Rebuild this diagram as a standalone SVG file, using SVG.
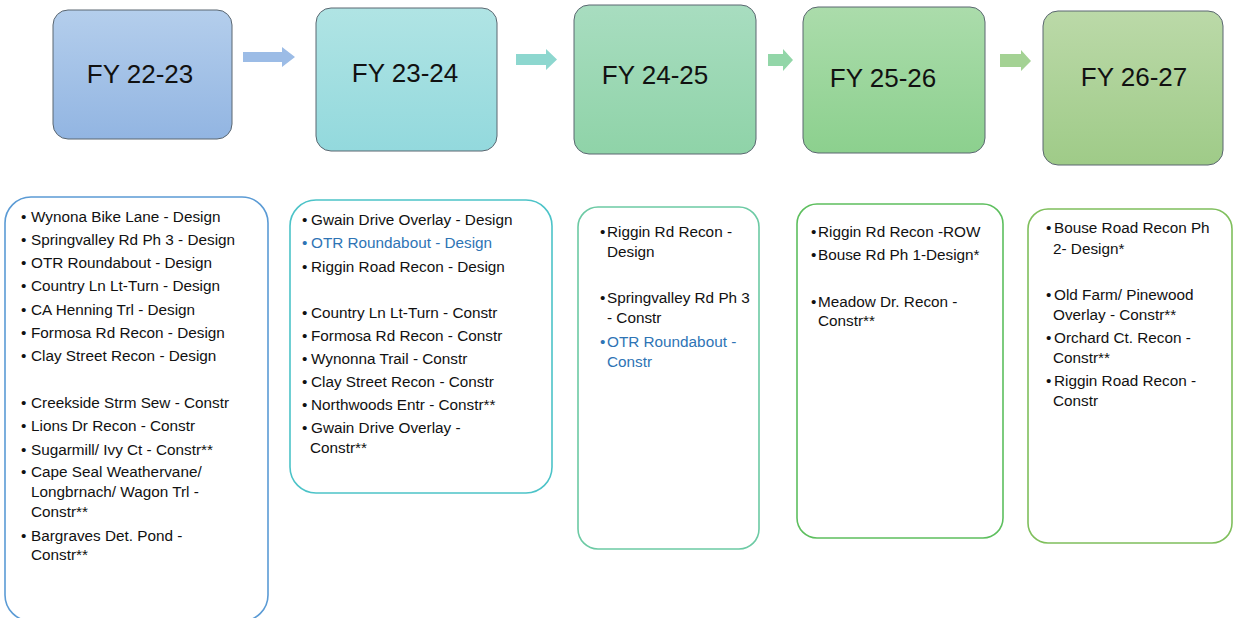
<svg xmlns="http://www.w3.org/2000/svg" width="1234" height="618" viewBox="0 0 1234 618">
<defs>
<linearGradient id="g1" x1="0" y1="0" x2="0" y2="1"><stop offset="0" stop-color="#b4ceec"/><stop offset="1" stop-color="#92b5e2"/></linearGradient>
<linearGradient id="g2" x1="0" y1="0" x2="0" y2="1"><stop offset="0" stop-color="#b0e4e4"/><stop offset="1" stop-color="#93d9dd"/></linearGradient>
<linearGradient id="g3" x1="0" y1="0" x2="0" y2="1"><stop offset="0" stop-color="#a8ddc0"/><stop offset="1" stop-color="#8fd3a8"/></linearGradient>
<linearGradient id="g4" x1="0" y1="0" x2="0" y2="1"><stop offset="0" stop-color="#abdcab"/><stop offset="1" stop-color="#8cd08e"/></linearGradient>
<linearGradient id="g5" x1="0" y1="0" x2="0" y2="1"><stop offset="0" stop-color="#bbd9a8"/><stop offset="1" stop-color="#9fcb88"/></linearGradient>
</defs>
<style>
.hdr{stroke:#5a6670;stroke-width:1}
.ht{font-family:"Liberation Sans",Arial,sans-serif;font-size:26px;fill:#111;text-anchor:middle}
.lst{fill:#fff;stroke-width:1.6}
.t{font-family:"Liberation Sans",Arial,sans-serif;font-size:15.3px;fill:#111}
.b{fill:#2e74b5}
</style>
<rect width="1234" height="618" fill="#fff"/>
<g id="connectors">
<polygon points="243,52 282,52 282,47 295,57 282,67 282,62 243,62" fill="#9cbce6"/>
<polygon points="516,54 546,54 546,49 557,59.5 546,70 546,65 516,65" fill="#8dd7cf"/>
<polygon points="768,54 783,54 783,49 793,60 783,71 783,66 768,66" fill="#92d6a8"/>
<polygon points="1000,54 1021,54 1021,50 1031,61 1021,71 1021,67 1000,67" fill="#a4d294"/>
</g>
<g id="fy2223"><rect class="hdr" x="53" y="10" width="179" height="129" rx="15" fill="url(#g1)"/><text class="ht" x="140" y="83">FY 22-23</text></g>
<g id="fy2324"><rect class="hdr" x="316" y="8" width="181" height="143" rx="15" fill="url(#g2)"/><text class="ht" x="405" y="82">FY 23-24</text></g>
<g id="fy2425"><rect class="hdr" x="574" y="5" width="182" height="149" rx="15" fill="url(#g3)"/><text class="ht" x="655" y="84">FY 24-25</text></g>
<g id="fy2526"><rect class="hdr" x="803" y="7" width="182" height="146" rx="15" fill="url(#g4)"/><text class="ht" x="883" y="87">FY 25-26</text></g>
<g id="fy2627"><rect class="hdr" x="1043" y="11" width="180" height="154" rx="15" fill="url(#g5)"/><text class="ht" x="1134" y="86">FY 26-27</text></g>

<g id="list2223">
<rect class="lst" x="5" y="197" width="263" height="424" rx="26" stroke="#5b9bd5"/>
<g class="t">
<text x="21" y="222">•<tspan x="31">Wynona Bike Lane - Design</tspan></text>
<text x="21" y="245">•<tspan x="31">Springvalley Rd Ph 3 - Design</tspan></text>
<text x="21" y="268">•<tspan x="31">OTR Roundabout - Design</tspan></text>
<text x="21" y="291">•<tspan x="31">Country Ln Lt-Turn - Design</tspan></text>
<text x="21" y="315">•<tspan x="31">CA Henning Trl - Design</tspan></text>
<text x="21" y="338">•<tspan x="31">Formosa Rd Recon - Design</tspan></text>
<text x="21" y="361">•<tspan x="31">Clay Street Recon - Design</tspan></text>
<text x="21" y="408">•<tspan x="31">Creekside Strm Sew - Constr</tspan></text>
<text x="21" y="431">•<tspan x="31">Lions Dr Recon - Constr</tspan></text>
<text x="21" y="455">•<tspan x="31">Sugarmill/ Ivy Ct - Constr**</tspan></text>
<text x="21" y="477">•<tspan x="31">Cape Seal Weathervane/</tspan><tspan x="31" y="497">Longbrnach/ Wagon Trl -</tspan><tspan x="31" y="517">Constr**</tspan></text>
<text x="21" y="541">•<tspan x="31">Bargraves Det. Pond -</tspan><tspan x="31" y="560">Constr**</tspan></text>
</g>
</g>

<g id="list2324">
<rect class="lst" x="290" y="200" width="262" height="293" rx="26" stroke="#4cc3c8"/>
<g class="t">
<text x="302" y="225">•<tspan x="311">Gwain Drive Overlay - Design</tspan></text>
<text x="302" y="248" class="b">•<tspan x="311">OTR Roundabout - Design</tspan></text>
<text x="302" y="272">•<tspan x="311">Riggin Road Recon - Design</tspan></text>
<text x="302" y="318">•<tspan x="311">Country Ln Lt-Turn - Constr</tspan></text>
<text x="302" y="341">•<tspan x="311">Formosa Rd Recon - Constr</tspan></text>
<text x="302" y="364">•<tspan x="311">Wynonna Trail - Constr</tspan></text>
<text x="302" y="387">•<tspan x="311">Clay Street Recon - Constr</tspan></text>
<text x="302" y="410">•<tspan x="311">Northwoods Entr - Constr**</tspan></text>
<text x="302" y="433">•<tspan x="311">Gwain Drive Overlay -</tspan><tspan x="310" y="453">Constr**</tspan></text>
</g>
</g>

<g id="list2425">
<rect class="lst" x="578" y="207" width="181" height="342" rx="20" stroke="#6ccaa4"/>
<g class="t">
<text x="600" y="237">•<tspan x="607">Riggin Rd Recon -</tspan><tspan x="607" y="257">Design</tspan></text>
<text x="600" y="303">•<tspan x="607">Springvalley Rd Ph 3</tspan><tspan x="607" y="323">- Constr</tspan></text>
<text x="600" y="347" class="b">•<tspan x="607">OTR Roundabout -</tspan><tspan x="607" y="367">Constr</tspan></text>
</g>
</g>

<g id="list2526">
<rect class="lst" x="797" y="204" width="206" height="334" rx="20" stroke="#5dbf5e"/>
<g class="t">
<text x="811" y="237">•<tspan x="818">Riggin Rd Recon -ROW</tspan></text>
<text x="811" y="260">•<tspan x="818">Bouse Rd Ph 1-Design*</tspan></text>
<text x="811" y="307">•<tspan x="818">Meadow Dr. Recon -</tspan><tspan x="818" y="326">Constr**</tspan></text>
</g>
</g>

<g id="list2627">
<rect class="lst" x="1028" y="209" width="204" height="334" rx="20" stroke="#7fbf5c"/>
<g class="t">
<text x="1046" y="233">•<tspan x="1054">Bouse Road Recon Ph</tspan><tspan x="1053" y="254">2- Design*</tspan></text>
<text x="1046" y="300">•<tspan x="1054">Old Farm/ Pinewood</tspan><tspan x="1053" y="320">Overlay - Constr**</tspan></text>
<text x="1046" y="343">•<tspan x="1054">Orchard Ct. Recon -</tspan><tspan x="1053" y="363">Constr**</tspan></text>
<text x="1046" y="386">•<tspan x="1054">Riggin Road Recon -</tspan><tspan x="1053" y="406">Constr</tspan></text>
</g>
</g>
</svg>
